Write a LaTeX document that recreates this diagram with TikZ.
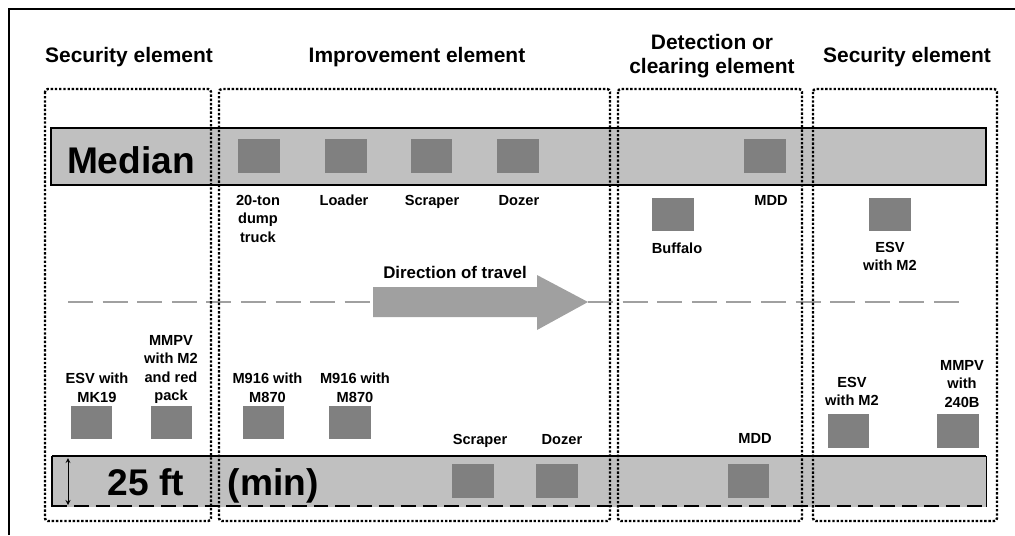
\documentclass[tikz,border=0pt]{standalone}
\usepackage{fontspec}
\setmainfont{Liberation Sans}
\usetikzlibrary{arrows,positioning,calc}

\definecolor{bandgray}{HTML}{C0C0C0}
\definecolor{vehgray}{HTML}{808080}
\definecolor{lanegray}{HTML}{A0A0A0}

\tikzset{
  veh/.style={fill=vehgray, inner sep=0pt, minimum width=1.04cm, minimum height=0.84cm},
  vlabel/.style={font=\bfseries\fontsize{10.4}{13.2}\selectfont, align=center, inner sep=0pt, anchor=north},
  title/.style={font=\bfseries\fontsize{14.9}{16.6}\selectfont, align=center, inner sep=0pt},
  bigtext/.style={font=\bfseries\fontsize{26.4}{30}\selectfont, inner sep=0pt, anchor=base},
  zone/.style={line width=1.7pt, dash pattern=on 1.7pt off 1.3pt, rounded corners=2pt}
}

\begin{document}
\begin{tikzpicture}[x=0.025cm, y=-0.025cm]
  \useasboundingbox (0,0) rectangle (1015,535);

  % frame
  \draw[line width=1.9pt] (9,535) -- (9,9) -- (1015,9);

  % titles
  \node[title] (tsecl) at (129,57) {Security element};
  \node[title] (timp) at (417,57) {Improvement element};
  \node[title] (tdet) at (712,56) {Detection or\\clearing element};
  \node[title] (tsecr) at (907,57) {Security element};

  % Median
  \draw[line width=2.1pt, fill=bandgray] (51,128) rectangle (986,185);
  \node[bigtext] (median) at (131,173) {Median};
  \node[veh] (dump) at (259,156) {};
  \node[veh] (loader) at (346,156) {};
  \node[veh] (scraperm) at (431.5,156) {};
  \node[veh] (dozerm) at (518,156) {};
  \node[veh] (mddm) at (765,156) {};
  \node[vlabel] (ldump) at (258,194.7) {20-ton\\dump\\truck};
  \node[vlabel] (lloader) at (344,194.7) {Loader};
  \node[vlabel] (lscraperm) at (432,194.7) {Scraper};
  \node[vlabel] (ldozerm) at (519,194.7) {Dozer};
  \node[vlabel] (lmddm) at (771,194.7) {MDD};

  % Buffalo and ESV between median and lane
  \node[veh] (buffalo) at (673,214.5) {};
  \node[vlabel] (lbuffalo) at (677,242.7) {Buffalo};
  \node[veh] (esvtop) at (890,214.5) {};
  \node[vlabel] (lesvtop) at (890,241.7) {ESV\\with M2};

  % lane line and direction arrow
  \coordinate (lanew) at (68,302);
  \coordinate (lanee) at (968,302);
  \draw[lanegray, line width=2.1pt, dash pattern=on 17.8pt off 6.8pt] (lanew) -- (370,302);
  \draw[lanegray, line width=2.1pt, dash pattern=on 17.8pt off 6.8pt] (588,302) -- (lanee);
  \fill[lanegray] (373,287) -- (537,287) -- (537,275) -- (588,302) -- (537,330) -- (537,317) -- (373,317) -- cycle;
  \node[title, font=\bfseries\fontsize{12}{14}\selectfont] (ldir) at (455,272) {Direction of travel};

  % lower vehicles
  \node[vlabel] (lesvmk) at (97,372.7) {ESV with\\MK19};
  \node[veh] (esvmk) at (91.5,422.5) {};
  \node[vlabel] (lmmpvm) at (171,334.7) {MMPV\\with M2\\and red\\pack};
  \node[veh] (mmpvm) at (171.5,422.5) {};
  \node[vlabel] (lmA) at (267.5,372.7) {M916 with\\M870};
  \node[veh] (mA) at (263.5,422.5) {};
  \node[vlabel] (lmB) at (355,372.7) {M916 with\\M870};
  \node[veh] (mB) at (350,422.5) {};
  \node[vlabel] (lesvlow) at (852,376.7) {ESV\\with M2};
  \node[veh] (esvlow) at (848.5,431) {};
  \node[vlabel] (lmmpvb) at (962,359.7) {MMPV\\with\\240B};
  \node[veh] (mmpvb) at (958,431) {};

  % shoulder, 25 ft (min)
  \fill[bandgray] (52,456) rectangle (986,507);
  \draw[line width=1.5pt] (52,456) -- (986,456);
  \draw[line width=0.8pt] (52,456) -- (52,507);
  \draw[line width=0.6pt] (986,456) -- (986,507);
  \draw[line width=2.1pt, dash pattern=on 10.5pt off 5pt] (52,506) -- (986,506);
  \coordinate (ftop) at (68,458);
  \coordinate (fbot) at (68,505);
  \draw[<->, >=stealth, line width=0.6pt] (ftop) -- (fbot);
  \node[bigtext] (ft) at (146,495.5) {25 ft};
  \node[bigtext] (min) at (273,495.5) {(min)};
  \node[veh] (scraperl) at (473,481) {};
  \node[vlabel] (lscraperl) at (480,433.7) {Scraper};
  \node[veh] (dozerl) at (557,481) {};
  \node[vlabel] (ldozerl) at (562,433.7) {Dozer};
  \node[veh] (mddl) at (748.5,481) {};
  \node[vlabel] (lmddl) at (755,432.7) {MDD};

  % element zones
  \draw[zone] (45,89) rectangle (211,521);
  \draw[zone] (219,89) rectangle (610,521);
  \draw[zone] (618,89) rectangle (802,521);
  \draw[zone] (813,89) rectangle (997,521);
\end{tikzpicture}
\end{document}
